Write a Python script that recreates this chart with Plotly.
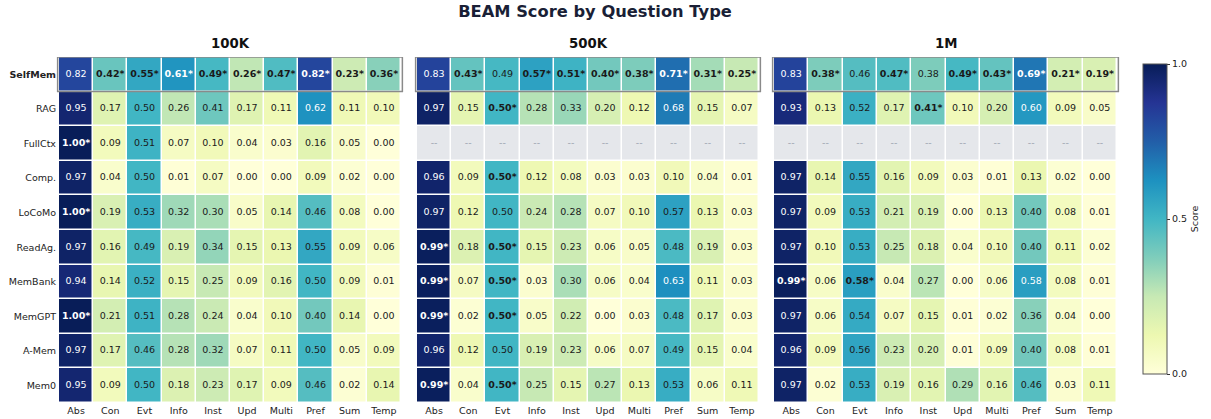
import plotly.graph_objects as go

W, H = 1211, 419


def px(x):
    return x / W


def py(y):
    return 1 - y / H


question_types = ["Abs", "Con", "Evt", "Info", "Inst", "Upd", "Multi", "Pref", "Sum", "Temp"]
methods = ["SelfMem", "RAG", "FullCtx", "Comp.", "LoCoMo", "ReadAg.", "MemBank", "MemGPT", "A-Mem", "Mem0"]
panels = ["100K", "500K", "1M"]

scores_100k = [
    [0.82, 0.42, 0.55, 0.61, 0.49, 0.26, 0.47, 0.82, 0.23, 0.36],
    [0.95, 0.17, 0.50, 0.26, 0.41, 0.17, 0.11, 0.62, 0.11, 0.10],
    [1.00, 0.09, 0.51, 0.07, 0.10, 0.04, 0.03, 0.16, 0.05, 0.00],
    [0.97, 0.04, 0.50, 0.01, 0.07, 0.00, 0.00, 0.09, 0.02, 0.00],
    [1.00, 0.19, 0.53, 0.32, 0.30, 0.05, 0.14, 0.46, 0.08, 0.00],
    [0.97, 0.16, 0.49, 0.19, 0.34, 0.15, 0.13, 0.55, 0.09, 0.06],
    [0.94, 0.14, 0.52, 0.15, 0.25, 0.09, 0.16, 0.50, 0.09, 0.01],
    [1.00, 0.21, 0.51, 0.28, 0.24, 0.04, 0.10, 0.40, 0.14, 0.00],
    [0.97, 0.17, 0.46, 0.28, 0.32, 0.07, 0.11, 0.50, 0.05, 0.09],
    [0.95, 0.09, 0.50, 0.18, 0.23, 0.17, 0.09, 0.46, 0.02, 0.14],
]
best_100k = [
    [0, 1, 1, 1, 1, 1, 1, 1, 1, 1],
    [0, 0, 0, 0, 0, 0, 0, 0, 0, 0],
    [1, 0, 0, 0, 0, 0, 0, 0, 0, 0],
    [0, 0, 0, 0, 0, 0, 0, 0, 0, 0],
    [1, 0, 0, 0, 0, 0, 0, 0, 0, 0],
    [0, 0, 0, 0, 0, 0, 0, 0, 0, 0],
    [0, 0, 0, 0, 0, 0, 0, 0, 0, 0],
    [1, 0, 0, 0, 0, 0, 0, 0, 0, 0],
    [0, 0, 0, 0, 0, 0, 0, 0, 0, 0],
    [0, 0, 0, 0, 0, 0, 0, 0, 0, 0],
]

scores_500k = [
    [0.83, 0.43, 0.49, 0.57, 0.51, 0.40, 0.38, 0.71, 0.31, 0.25],
    [0.97, 0.15, 0.50, 0.28, 0.33, 0.20, 0.12, 0.68, 0.15, 0.07],
    [None] * 10,
    [0.96, 0.09, 0.50, 0.12, 0.08, 0.03, 0.03, 0.10, 0.04, 0.01],
    [0.97, 0.12, 0.50, 0.24, 0.28, 0.07, 0.10, 0.57, 0.13, 0.03],
    [0.99, 0.18, 0.50, 0.15, 0.23, 0.06, 0.05, 0.48, 0.19, 0.03],
    [0.99, 0.07, 0.50, 0.03, 0.30, 0.06, 0.04, 0.63, 0.11, 0.03],
    [0.99, 0.02, 0.50, 0.05, 0.22, 0.00, 0.03, 0.48, 0.17, 0.03],
    [0.96, 0.12, 0.50, 0.19, 0.23, 0.06, 0.07, 0.49, 0.15, 0.04],
    [0.99, 0.04, 0.50, 0.25, 0.15, 0.27, 0.13, 0.53, 0.06, 0.11],
]
best_500k = [
    [0, 1, 0, 1, 1, 1, 1, 1, 1, 1],
    [0, 0, 1, 0, 0, 0, 0, 0, 0, 0],
    [0, 0, 0, 0, 0, 0, 0, 0, 0, 0],
    [0, 0, 1, 0, 0, 0, 0, 0, 0, 0],
    [0, 0, 0, 0, 0, 0, 0, 0, 0, 0],
    [1, 0, 1, 0, 0, 0, 0, 0, 0, 0],
    [1, 0, 1, 0, 0, 0, 0, 0, 0, 0],
    [1, 0, 1, 0, 0, 0, 0, 0, 0, 0],
    [0, 0, 0, 0, 0, 0, 0, 0, 0, 0],
    [1, 0, 1, 0, 0, 0, 0, 0, 0, 0],
]

scores_1m = [
    [0.83, 0.38, 0.46, 0.47, 0.38, 0.49, 0.43, 0.69, 0.21, 0.19],
    [0.93, 0.13, 0.52, 0.17, 0.41, 0.10, 0.20, 0.60, 0.09, 0.05],
    [None] * 10,
    [0.97, 0.14, 0.55, 0.16, 0.09, 0.03, 0.01, 0.13, 0.02, 0.00],
    [0.97, 0.09, 0.53, 0.21, 0.19, 0.00, 0.13, 0.40, 0.08, 0.01],
    [0.97, 0.10, 0.53, 0.25, 0.18, 0.04, 0.10, 0.40, 0.11, 0.02],
    [0.99, 0.06, 0.579, 0.04, 0.27, 0.00, 0.06, 0.581, 0.08, 0.01],
    [0.97, 0.06, 0.54, 0.07, 0.15, 0.01, 0.02, 0.36, 0.04, 0.00],
    [0.96, 0.09, 0.56, 0.23, 0.20, 0.01, 0.09, 0.40, 0.08, 0.01],
    [0.97, 0.02, 0.53, 0.19, 0.16, 0.29, 0.16, 0.46, 0.03, 0.11],
]
best_1m = [
    [0, 1, 0, 1, 0, 1, 1, 1, 1, 1],
    [0, 0, 0, 0, 1, 0, 0, 0, 0, 0],
    [0, 0, 0, 0, 0, 0, 0, 0, 0, 0],
    [0, 0, 0, 0, 0, 0, 0, 0, 0, 0],
    [0, 0, 0, 0, 0, 0, 0, 0, 0, 0],
    [0, 0, 0, 0, 0, 0, 0, 0, 0, 0],
    [1, 0, 1, 0, 0, 0, 0, 0, 0, 0],
    [0, 0, 0, 0, 0, 0, 0, 0, 0, 0],
    [0, 0, 0, 0, 0, 0, 0, 0, 0, 0],
    [0, 0, 0, 0, 0, 0, 0, 0, 0, 0],
]

all_scores = [scores_100k, scores_500k, scores_1m]
all_best = [best_100k, best_500k, best_1m]

# ---- styling ----
YLGNBU = ["#ffffd9", "#edf8b1", "#c7e9b4", "#7fcdbb", "#41b6c4",
          "#1d91c0", "#225ea8", "#253494", "#081d58"]
colorscale = [[i / (len(YLGNBU) - 1), c] for i, c in enumerate(YLGNBU)]
FONT = "DejaVu Sans"
MISSING_BG = "#e5e7eb"

x_domains = [[px(59), px(401)], [px(417), px(759)], [px(774), px(1117)]]
y_domain = [py(403), py(57)]

fig = go.Figure()
shapes = []
annotations = []

for p, (name, scores, best) in enumerate(zip(panels, all_scores, all_best)):
    xa = "x" if p == 0 else f"x{p + 1}"
    ya = "y" if p == 0 else f"y{p + 1}"

    fig.add_trace(go.Heatmap(
        z=scores, x=question_types, y=methods,
        colorscale=colorscale, zmin=0, zmax=1,
        xgap=1.5, ygap=1.5, hoverongaps=False,
        showscale=(p == 0),
        colorbar=dict(
            x=px(1143), xanchor="left", xpad=0,
            y=py(219), yanchor="middle", ypad=0,
            thickness=24, len=310, lenmode="pixels",
            outlinecolor="#555555", outlinewidth=1,
            tickvals=[0, 0.5, 1.0], ticktext=["0.0", "0.5", "1.0"],
            ticks="outside", ticklen=3, tickcolor="#333333",
            tickfont=dict(family=FONT, size=9.5, color="#222222"),
            title=dict(text="Score", side="right",
                       font=dict(family=FONT, size=9.5, color="#222222")),
        ) if p == 0 else None,
        xaxis=xa, yaxis=ya,
    ))

    # missing cells (gray)
    miss = [[1 if v is None else None for v in row] for row in scores]
    if any(v is not None for row in miss for v in row):
        fig.add_trace(go.Heatmap(
            z=miss, x=question_types, y=methods,
            colorscale=[[0, MISSING_BG], [1, MISSING_BG]], zmin=0, zmax=1,
            xgap=1.5, ygap=1.5, showscale=False, hoverinfo="skip",
            xaxis=xa, yaxis=ya,
        ))

    # cell labels
    tx, ty, tt, tc = [], [], [], []
    for i, m in enumerate(methods):
        for j, q in enumerate(question_types):
            v = scores[i][j]
            tx.append(q)
            ty.append(m)
            if v is None:
                tt.append("--")
                tc.append("#9ca3af")
            else:
                s = f"{v:.2f}"
                if best[i][j]:
                    s = f"<b>{s}*</b>"
                tt.append(s)
                tc.append("white" if v >= 0.58 else "#1a1a1a")
    fig.add_trace(go.Scatter(
        x=tx, y=ty, mode="text", text=tt,
        textfont=dict(family=FONT, size=9.5, color=tc),
        hoverinfo="skip", showlegend=False,
        xaxis=xa, yaxis=ya,
    ))

    # highlight SelfMem row
    shapes.append(dict(
        type="rect", xref=f"{xa} domain", yref=ya,
        x0=-0.004, x1=1.004, y0=-0.5, y1=0.5,
        line=dict(color="#8a8a8a", width=1.5), fillcolor="rgba(0,0,0,0)",
        layer="above",
    ))

    # panel title
    annotations.append(dict(
        text=f"<b>{name}</b>", xref="paper", yref="paper",
        x=sum(x_domains[p]) / 2, y=py(43), xanchor="center", yanchor="middle",
        showarrow=False, font=dict(family=FONT, size=13.3, color="#111111"),
    ))

    axis_common = dict(showgrid=False, zeroline=False, showline=False,
                       automargin=False, ticks="", fixedrange=True)
    fig.layout[("xaxis" if p == 0 else f"xaxis{p + 1}")] = dict(
        domain=x_domains[p], anchor=ya, type="category",
        range=[-0.5, len(question_types) - 0.5],
        tickfont=dict(family=FONT, size=9.5, color="#222222"),
        **axis_common,
    )
    fig.layout[("yaxis" if p == 0 else f"yaxis{p + 1}")] = dict(
        domain=y_domain, anchor=xa, type="category",
        range=[len(methods) - 0.5, -0.5],
        tickmode="array", tickvals=methods,
        ticktext=[f"<b>{m}</b>" if m == "SelfMem" else m for m in methods],
        showticklabels=(p == 0), ticklabelstandoff=2,
        tickfont=dict(family=FONT, size=9.5, color="#222222"),
        **axis_common,
    )

fig.update_layout(
    width=W, height=H,
    margin=dict(l=0, r=0, t=0, b=0, autoexpand=False),
    paper_bgcolor="white", plot_bgcolor="white",
    showlegend=False,
    title=dict(text="<b>BEAM Score by Question Type</b>",
               x=px(595), xanchor="center", y=py(11), yanchor="middle",
               font=dict(family=FONT, size=16.3, color="#1a1f36")),
    shapes=shapes,
    annotations=annotations,
)

# remove the browser's default 8px body margin so the figure fills the window
fig.write_html("out.html",
               config={"displayModeBar": False},
               post_script="document.body.style.margin='0';document.body.style.overflow='hidden';")
